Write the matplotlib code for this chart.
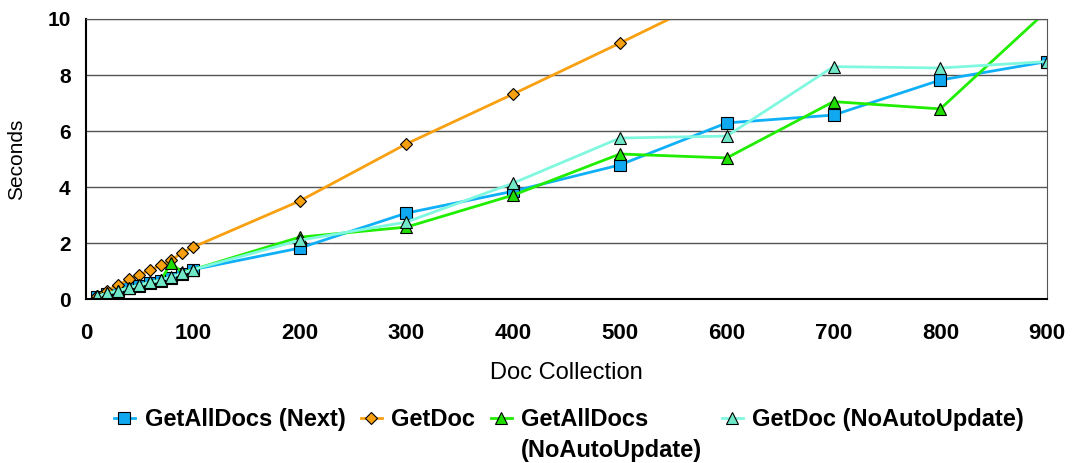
import matplotlib

matplotlib.use("Agg")
import matplotlib.pyplot as plt

plt.rcParams["font.family"] = ["Liberation Sans", "DejaVu Sans"]

# Doc collection sizes
docs = [10, 20, 30, 40, 50, 60, 70, 80, 90, 100, 200, 300, 400, 500, 600, 700, 800, 900]

# Seconds per series
getalldocs_next = [0.08, 0.18, 0.28, 0.38, 0.48, 0.58, 0.65, 0.75, 0.88, 1.05,
                   1.82, 3.07, 3.85, 4.79, 6.29, 6.57, 7.82, 8.48]
getdoc = [0.12, 0.3, 0.5, 0.7, 0.85, 1.05, 1.2, 1.4, 1.65, 1.85,
          3.5, 5.54, 7.32, 9.14, 11.0]
getalldocs_noauto = [0.1, 0.2, 0.3, 0.4, 0.5, 0.6, 0.68, 1.29, 0.95, 1.05,
                     2.21, 2.57, 3.71, 5.18, 5.04, 7.05, 6.79, 10.3]
getdoc_noauto = [0.1, 0.2, 0.3, 0.4, 0.5, 0.6, 0.68, 0.8, 0.92, 1.05,
                 2.1, 2.75, 4.14, 5.75, 5.82, 8.3, 8.25, 8.48]

series = [
    ("GetAllDocs (Next)", getalldocs_next, "#10B0F8", "#10A8F0", "s", 8),
    ("GetDoc", getdoc, "#F8A010", "#F8A010", "D", 6),
    ("GetAllDocs", getalldocs_noauto, "#20EE00", "#20DD00", "^", 8),
    ("GetDoc (NoAutoUpdate)", getdoc_noauto, "#80F8E0", "#70E8C8", "^", 8),
]

fig = plt.figure(figsize=(10.74, 4.63), dpi=100)
ax = fig.add_axes([0.080, 0.354, 0.895, 0.605])

lines = []
for label, vals, lc, mc, mk, ms in series:
    ln, = ax.plot(docs[:len(vals)], vals, color=lc, lw=2, marker=mk, markersize=ms,
                  markerfacecolor=mc, markeredgecolor="black", markeredgewidth=0.8,
                  label=label)
    lines.append(ln)

ax.set_xlim(0, 900)
ax.set_ylim(0, 10)
ax.set_xticks(range(0, 901, 100))
ax.set_yticks(range(0, 11, 2))
ax.grid(axis="y", color="#555555", lw=1)
ax.set_axisbelow(True)
ax.tick_params(axis="x", length=0, pad=17, labelsize=16)
ax.tick_params(axis="y", length=0, pad=11, labelsize=15)
for lab in ax.get_xticklabels() + ax.get_yticklabels():
    lab.set_fontweight("bold")
for side in ["left", "bottom"]:
    ax.spines[side].set_color("black")
    ax.spines[side].set_linewidth(1.5)
for side in ["top", "right"]:
    ax.spines[side].set_color("#555555")
ax.set_xlabel("Doc Collection", fontsize=17, labelpad=13)
ax.set_ylabel("Seconds", fontsize=15, labelpad=15)

legend_kw = dict(loc="center left", frameon=False, borderpad=0, borderaxespad=0,
                 prop={"weight": "bold", "size": 17}, handlelength=0.9,
                 handletextpad=0.4, columnspacing=0.65)
leg1 = fig.legend(handles=lines[:3], ncol=3, bbox_to_anchor=(0.106, 0.093), **legend_kw)
leg2 = fig.legend(handles=lines[3:], ncol=1, bbox_to_anchor=(0.672, 0.093), **legend_kw)

# second line of the wrapped "GetAllDocs (NoAutoUpdate)" label
fig.canvas.draw()
bb = leg1.get_texts()[2].get_window_extent()
x0, _ = fig.transFigure.inverted().transform((bb.x0, bb.y0))
fig.text(x0, 0.028, "(NoAutoUpdate)", fontsize=17, fontweight="bold",
         ha="left", va="center")

fig.savefig("out.png", dpi=100)
